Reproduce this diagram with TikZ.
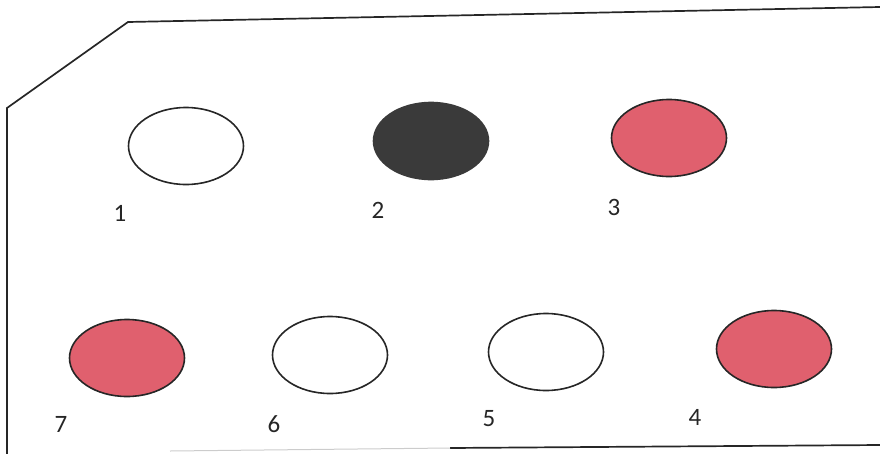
\documentclass[tikz,border=0pt]{standalone}
\usepackage{fontspec}
\setmainfont{Carlito}
\usepackage{xcolor}
\usetikzlibrary{shapes.geometric}

\definecolor{beadred}{RGB}{224,96,110}
\definecolor{beaddark}{RGB}{58,58,58}

\begin{document}
\begin{tikzpicture}[
    x=1pt, y=-1pt,
    bead/.style={draw=black!85, ellipse, line width=1.6pt, minimum width=115pt, minimum height=77pt, inner sep=0pt},
    whitebead/.style={bead, fill=white},
    redbead/.style={bead, fill=beadred},
    darkbead/.style={bead, fill=beaddark, draw=beaddark},
    num/.style={inner sep=0pt, font=\fontsize{25}{25}\selectfont, text=black!85},
    rim/.style={draw=black!85, line width=1.7pt}
]
\useasboundingbox (0,0) rectangle (880,453);

% Card outline
\coordinate (bl) at (7,456);
\coordinate (lc) at (7,108);
\coordinate (tc) at (128,22);
\coordinate (tr) at (880,7);
\coordinate (br) at (880,445);
\coordinate (bm) at (450,448);
\coordinate (bf) at (170,451);
\draw[rim] (br) -- (bm);
\draw[rim, draw=black!20, line width=1pt] (bm) -- (bf);
\draw[rim] (bl) -- (lc) -- (tc) -- (tr);

% Top row
\node[whitebead] (b1) at (186,146) {};
\node[darkbead] (b2) at (431,141) {};
\node[redbead] (b3) at (669,138) {};

% Bottom row
\node[redbead] (b7) at (127,358) {};
\node[whitebead] (b6) at (330,355) {};
\node[whitebead] (b5) at (546,352) {};
\node[redbead] (b4) at (774,349) {};

% Numbers
\node[num] (n1) at (120,213) {1};
\node[num] (n2) at (378,210) {2};
\node[num] (n3) at (614,207) {3};
\node[num] (n7) at (61,424) {7};
\node[num] (n6) at (274,424) {6};
\node[num] (n5) at (489,419) {5};
\node[num] (n4) at (695,417) {4};

\end{tikzpicture}
\end{document}
